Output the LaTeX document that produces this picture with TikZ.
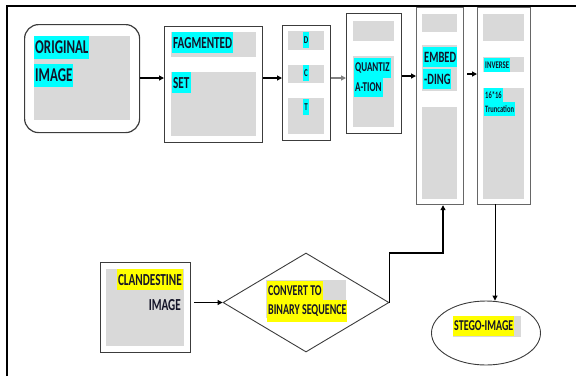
\documentclass[tikz,border=0pt]{standalone}
\usepackage{fontspec}
\setmainfont{Carlito}
\usepackage{graphicx}
\usetikzlibrary{arrows.meta,shapes.geometric,calc}
\definecolor{gfill}{HTML}{D9D9D9}
\definecolor{hcyan}{HTML}{00FFFF}
\definecolor{hyel}{HTML}{FFFF00}
\definecolor{edgec}{HTML}{3C3C3C}
\definecolor{ink}{HTML}{141428}
\newcommand{\vs}[1]{\scalebox{1}[1.5]{#1}}
\newcommand{\fs}[1]{\fontsize{#1}{#1}\selectfont\bfseries}
\begin{document}
\begin{tikzpicture}[x=1pt,y=-1pt,
  box/.style={draw=edgec,line width=1.2pt,anchor=north west,inner sep=0pt},
  arr/.style={line width=1.2pt,-{Triangle[length=5pt,width=5pt]}},
  hl/.style={fill=hcyan,inner xsep=0.1em,inner ysep=0.48em,text=ink,anchor=north west},
  hy/.style={hl,fill=hyel},
  plain/.style={inner xsep=0.1em,inner ysep=0.48em,text=ink,anchor=north east}]
\useasboundingbox (0,0) rectangle (576,376);
\draw[line width=2pt] (7,376) -- (7,6) -- (576,6);

% boxes
\node[box,rounded corners=14pt,minimum width=115,minimum height=108] (orig) at (24,24) {};
\node[box,minimum width=98,minimum height=116] (frag) at (164,26) {};
\node[box,minimum width=48,minimum height=115] (dct) at (282,25) {};
\node[box,minimum width=55,minimum height=120] (quant) at (346,13) {};
\node[box,draw=gray!80!black,minimum width=47,minimum height=197] (embed) at (416,7) {};
\node[box,draw=gray!80!black,minimum width=53,minimum height=197] (inv) at (477,7) {};
\node[box,minimum width=90,minimum height=90] (clan) at (100,262) {};
\node[draw=edgec,line width=0.9pt,diamond,inner sep=0pt,minimum width=166,minimum height=99] (conv) at (306,302.5) {};
\node[draw=edgec,line width=0.9pt,ellipse,inner sep=0pt,minimum width=109,minimum height=64] (stego) at (486,333) {};

% grey panels
\fill[gfill] (34,36) rectangle (130,120);
\fill[gfill] (171,32) rectangle (256,57);
\fill[gfill] (171,72) rectangle (256,136);
\fill[gfill] (288,31) rectangle (324,50);
\fill[gfill] (288,65) rectangle (324,83);
\fill[gfill] (288,98) rectangle (324,134);
\fill[gfill] (353,21) rectangle (394,41);
\fill[gfill] (353,56) rectangle (394,127);
\fill[gfill] (422,14) rectangle (457,32);
\fill[gfill] (422,45) rectangle (457,91);
\fill[gfill] (422,107) rectangle (457,199);
\fill[gfill] (483,14) rectangle (524,41);
\fill[gfill] (483,57) rectangle (524,72);
\fill[gfill] (483,88) rectangle (524,199);
\fill[gfill] (106,269) rectangle (184,346);
\fill[gfill] (266,280) rectangle (346,318);
\fill[gfill] (453,316) rectangle (521,337);

% texts
\node[hl,font=\fs{13}] (o1) at (34,36) {\vs{ORIGINAL}};
\node[hl,font=\fs{13}] (o2) at (34,64) {\vs{IMAGE}};
\node[hl,font=\fs{11.2}] (f1) at (172,32) {\vs{FAGMENTED}};
\node[hl,font=\fs{11.2}] (f2) at (172,72) {\vs{SET}};
\node[hl,font=\fs{7},anchor=center] (d1) at (306,40) {\vs{D}};
\node[hl,font=\fs{7},anchor=center] (d2) at (306,73) {\vs{C}};
\node[hl,font=\fs{7},anchor=center] (d3) at (306,107) {\vs{T}};
\node[hl,font=\fs{9}] (q1) at (354,58) {\vs{QUANTIZ}};
\node[hl,font=\fs{9}] (q2) at (354,78) {\vs{A-TION}};
\node[hl,font=\fs{10.5}] (e1) at (423,47) {\vs{EMBED}};
\node[hl,font=\fs{10.5}] (e2) at (423,69) {\vs{-DING}};
\node[hl,font=\fs{6.8},inner ysep=0.35em] (i1) at (484,58) {\vs{INVERSE}};
\node[hl,font=\fs{6.5},inner ysep=0.35em] (i2) at (484,88) {\vs{16*16}};
\node[hl,font=\fs{6.5},inner ysep=0.35em] (i3) at (484,102) {\vs{Truncation}};
\node[hy,font=\fs{11.2},anchor=north east] (c1) at (183,269) {\vs{CLANDESTINE}};
\node[plain,font=\fs{11.2}] (c2) at (182,294) {\vs{IMAGE}};
\node[hy,font=\fs{10}] (v1) at (267,281) {\vs{CONVERT TO}};
\node[hy,font=\fs{10}] (v2) at (267,300) {\vs{BINARY SEQUENCE}};
\node[hy,font=\fs{10}] (s1) at (453,316) {\vs{STEGO-IMAGE}};

% connectors
\coordinate (r1) at (0,78);
\coordinate (r2) at (0,76);
\coordinate (r3) at (0,74);
\coordinate (bend) at (443,253);
\coordinate (invout) at (495,204);
\draw[arr] (orig.east |- r1) -- (frag.west |- r1);
\draw[arr] (frag.east |- r1) -- (dct.west |- r1);
\draw[arr,draw=gray] (dct.east |- r1) -- (quant.west |- r1);
\draw[arr] (quant.east |- r2) -- (embed.west |- r2);
\draw[arr] ($(embed.east |- r3)+(3,0)$) -- (inv.west |- r3);
\draw[arr] ($(clan.east |- conv.west)+(3,0)$) -- (conv.west);
\draw[arr] (conv.east) |- (bend) -- (bend |- embed.south);
\draw[arr,line width=0.9pt] (invout) -- (invout |- stego.north);
\end{tikzpicture}
\end{document}
